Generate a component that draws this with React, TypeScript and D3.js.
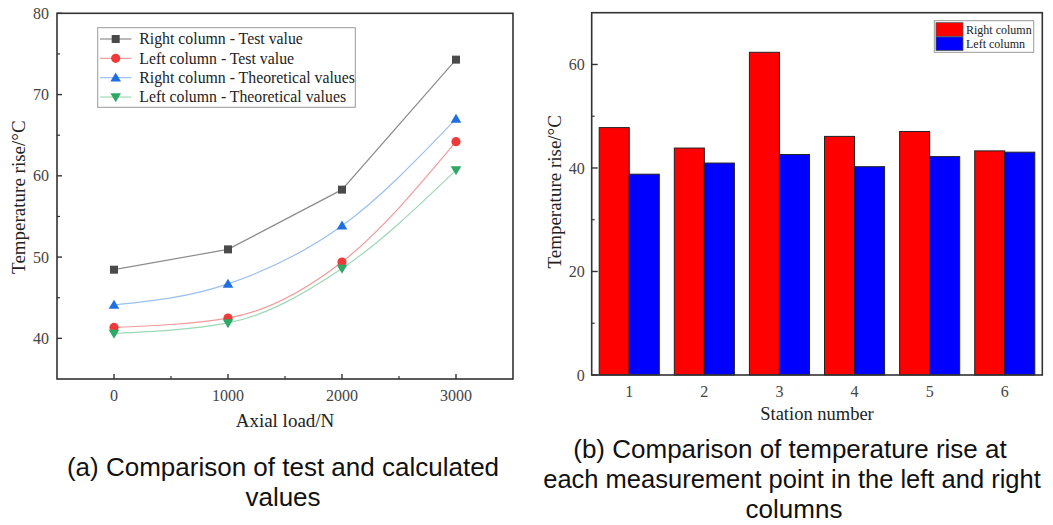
import React from "react";
import * as d3 from "d3";

// ---------- Data ----------
const axialLoads = [0, 1000, 2000, 3000];
const rightTest = [48.45, 50.95, 58.3, 74.3];
const leftTest = [41.35, 42.5, 49.4, 64.2];
const rightTheory = [44.1, 46.7, 53.85, 67.0];
const leftTheory = [40.6, 41.9, 48.6, 60.7];
const lineSeriesNames = [
  "Right column - Test value",
  "Left column - Test value",
  "Right column - Theoretical values",
  "Left column - Theoretical values",
];

const stations = [1, 2, 3, 4, 5, 6];
const rightColumn = [47.8, 43.85, 62.35, 46.1, 47.05, 43.3];
const leftColumn = [38.8, 40.95, 42.6, 40.25, 42.2, 43.05];
const barSeriesNames = ["Right column", "Left column"];

const yTicksA = [40, 50, 60, 70, 80];
const yMinorA = [45, 55, 65, 75];
const xTicksA = [0, 1000, 2000, 3000];
const xMinorA = [500, 1500, 2500];
const yTicksB = [0, 20, 40, 60];
const yMinorB = [10, 30, 50];

const captionA = ["(a) Comparison of test and calculated", "values"];
const captionB = [
  "(b)  Comparison of temperature rise at",
  "each measurement point in the left and right",
  "columns",
];

const serif = "'Liberation Serif', 'Times New Roman', serif";
const sans = "'Liberation Sans', Arial, sans-serif";
const axisColor = "#333";
const tickTextColor = "#444";

type Marker = "square" | "circle" | "up" | "down";
const lineStyles: { marker: Marker; fill: string; line: string }[] = [
  { marker: "square", fill: "#4a4a4a", line: "#8c8c8c" },
  { marker: "circle", fill: "#f03a3a", line: "#f29a9a" },
  { marker: "up", fill: "#1f6fe0", line: "#9cc0f0" },
  { marker: "down", fill: "#2ea866", line: "#9ed8b4" },
];

function MarkerShape({ type, x, y, fill }: { type: Marker; x: number; y: number; fill: string }) {
  if (type === "square") return <rect x={x - 4} y={y - 4} width={8} height={8} fill={fill} />;
  if (type === "circle") return <circle cx={x} cy={y} r={4.6} fill={fill} />;
  if (type === "up")
    return <path d={`M${x},${y - 5.2} L${x + 5.3},${y + 3.8} L${x - 5.3},${y + 3.8} Z`} fill={fill} />;
  return <path d={`M${x},${y + 5.2} L${x + 5.3},${y - 3.8} L${x - 5.3},${y - 3.8} Z`} fill={fill} />;
}

function ChartA() {
  const L = 57, R = 513, T = 13.3, B = 379;
  const x = d3.scaleLinear().domain([-500, 3500]).range([L, R]);
  const y = d3.scaleLinear().domain([35, 80]).range([B, T]);
  const series = [rightTest, leftTest, rightTheory, leftTheory];
  const lineLinear = d3.line<number>().x((_, i) => x(axialLoads[i])).y((d) => y(d));
  const lineCurve = d3
    .line<number>()
    .x((_, i) => x(axialLoads[i]))
    .y((d) => y(d))
    .curve(d3.curveMonotoneX);
  return (
    <g>
      {series.map((s, k) => (
        <path
          key={"l" + k}
          d={(k === 0 ? lineLinear : lineCurve)(s) || ""}
          fill="none"
          stroke={lineStyles[k].line}
          strokeWidth={1.2}
        />
      ))}
      {series.map((s, k) =>
        s.map((v, i) => (
          <MarkerShape key={`m${k}-${i}`} type={lineStyles[k].marker} x={x(axialLoads[i])} y={y(v)} fill={lineStyles[k].fill} />
        ))
      )}
      <rect x={L} y={T} width={R - L} height={B - T} fill="none" stroke={axisColor} strokeWidth={1.6} />
      {yTicksA.map((t) => (
        <g key={"yt" + t}>
          <line x1={L} x2={L + 5} y1={y(t)} y2={y(t)} stroke={axisColor} strokeWidth={1.4} />
          <text x={L - 8} y={y(t)} dy="0.35em" textAnchor="end" fontFamily={serif} fontSize={16} fill={tickTextColor}>
            {t}
          </text>
        </g>
      ))}
      {yMinorA.map((t) => (
        <line key={"ym" + t} x1={L} x2={L + 3} y1={y(t)} y2={y(t)} stroke={axisColor} strokeWidth={1.2} />
      ))}
      {xTicksA.map((t) => (
        <g key={"xt" + t}>
          <line x1={x(t)} x2={x(t)} y1={B} y2={B - 5} stroke={axisColor} strokeWidth={1.4} />
          <text x={x(t)} y={401} textAnchor="middle" fontFamily={serif} fontSize={16} fill={tickTextColor}>
            {t}
          </text>
        </g>
      ))}
      {xMinorA.map((t) => (
        <line key={"xm" + t} x1={x(t)} x2={x(t)} y1={B} y2={B - 3} stroke={axisColor} strokeWidth={1.2} />
      ))}
      <text x={(L + R) / 2} y={427} textAnchor="middle" fontFamily={serif} fontSize={19} fill="#222">
        Axial load/N
      </text>
      <text
        transform={`translate(25,${(T + B) / 2 + 1}) rotate(-90)`}
        textAnchor="middle"
        fontFamily={serif}
        fontSize={19}
        fill="#222"
      >
        Temperature rise/°C
      </text>
      <rect x={97.7} y={27.7} width={257.6} height={79.6} fill="white" stroke="#999" strokeWidth={1} />
      {lineSeriesNames.map((name, k) => {
        const ly = 39 + k * 19.35;
        return (
          <g key={"lg" + k}>
            <line x1={100} x2={131.5} y1={ly} y2={ly} stroke={lineStyles[k].line} strokeWidth={1.2} />
            <MarkerShape type={lineStyles[k].marker} x={115.7} y={ly} fill={lineStyles[k].fill} />
            <text x={139.3} y={ly} dy="0.34em" fontFamily={serif} fontSize={15.8} fill="#222">
              {name}
            </text>
          </g>
        );
      })}
    </g>
  );
}

function ChartB() {
  const L = 591.7, R = 1042.3, T = 12.7, B = 375;
  const x = d3.scaleLinear().domain([0.5, 6.5]).range([L, R]);
  const y = d3.scaleLinear().domain([0, 70]).range([B, T]);
  const bw = x(1.4) - x(1);
  const colors = ["#ff0000", "#0000ff"];
  const vals = [rightColumn, leftColumn];
  return (
    <g>
      {vals.map((s, k) =>
        s.map((v, i) => (
          <rect
            key={`b${k}-${i}`}
            x={x(stations[i]) + (k === 0 ? -bw : 0)}
            y={y(v)}
            width={bw}
            height={y(0) - y(v)}
            fill={colors[k]}
            stroke="#222"
            strokeWidth={1}
          />
        ))
      )}
      <rect x={L} y={T} width={R - L} height={B - T} fill="none" stroke={axisColor} strokeWidth={1.6} />
      {yTicksB.map((t) => (
        <g key={"yt" + t}>
          <line x1={L} x2={L + 6} y1={y(t)} y2={y(t)} stroke={axisColor} strokeWidth={1.4} />
          <text x={L - 7} y={y(t)} dy="0.35em" textAnchor="end" fontFamily={serif} fontSize={16} fill={tickTextColor}>
            {t}
          </text>
        </g>
      ))}
      {yMinorB.map((t) => (
        <line key={"ym" + t} x1={L} x2={L + 3} y1={y(t)} y2={y(t)} stroke={axisColor} strokeWidth={1.2} />
      ))}
      {stations.map((s) => (
        <text key={"xt" + s} x={x(s)} y={397} textAnchor="middle" fontFamily={serif} fontSize={16} fill={tickTextColor}>
          {s}
        </text>
      ))}
      <text x={(L + R) / 2} y={420} textAnchor="middle" fontFamily={serif} fontSize={18.5} fill="#222">
        Station number
      </text>
      <text
        transform={`translate(561,${(T + B) / 2 - 2}) rotate(-90)`}
        textAnchor="middle"
        fontFamily={serif}
        fontSize={19}
        fill="#222"
      >
        Temperature rise/°C
      </text>
      <rect x={934.3} y={20.7} width={99.4} height={31.6} fill="white" stroke="#999" strokeWidth={1} />
      {barSeriesNames.map((name, k) => {
        const ly = 22.7 + k * 14.2;
        return (
          <g key={"lg" + k}>
            <rect x={936} y={ly} width={27} height={13.6} fill={colors[k]} stroke="#555" strokeWidth={0.8} />
            <text x={966} y={ly + 6.8} dy="0.35em" fontFamily={serif} fontSize={12} fill="#222">
              {name}
            </text>
          </g>
        );
      })}
    </g>
  );
}

function Caption({ x, y, text, size }: { x: number; y: number; text: string; size: number }) {
  return (
    <text x={x} y={y} textAnchor="middle" fontFamily={sans} fontSize={size} fill="#111">
      {text}
    </text>
  );
}

export default function App() {
  return (
    <svg width={1053} height={525} style={{ position: "absolute", left: 0, top: 0, background: "white" }}>
      <rect width={1053} height={525} fill="white" />
      <ChartA />
      <ChartB />
      <Caption x={283} y={476} text={captionA[0]} size={26} />
      <Caption x={283} y={506} text={captionA[1]} size={26} />
      <Caption x={790} y={458} text={captionB[0]} size={26} />
      <Caption x={792} y={488} text={captionB[1]} size={25.5} />
      <Caption x={794} y={518} text={captionB[2]} size={26} />
    </svg>
  );
}
